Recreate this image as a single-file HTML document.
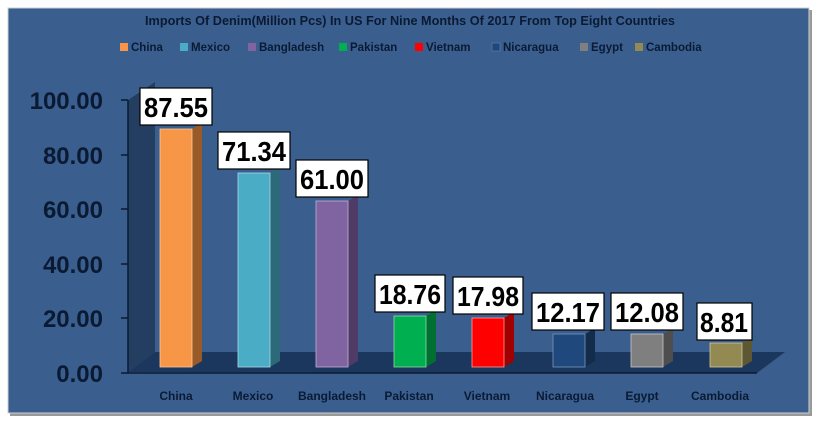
<!DOCTYPE html>
<html><head><style>
body{margin:0;background:#fff;width:820px;height:427px;overflow:hidden}
svg{display:block;font-family:"Liberation Sans",Calibri,sans-serif}
</style></head><body>
<svg width="820" height="427" viewBox="0 0 820 427">
<rect x="0" y="0" width="820" height="427" fill="#fff"/>
<rect x="10" y="10" width="802" height="406" fill="#555" opacity="0.6"/>
<rect x="8" y="8" width="801" height="405" fill="#3a5f8f" stroke="#cfcfcf" stroke-width="1"/>
<text x="410" y="25" text-anchor="middle" font-size="12.5" font-weight="bold" fill="#0b1a33" textLength="530" lengthAdjust="spacingAndGlyphs">Imports Of Denim(Million Pcs) In US For Nine Months Of 2017 From Top Eight Countries</text>
<g font-size="11.5" font-weight="bold" fill="#0b1a33">
<rect x="120" y="43" width="8" height="8" fill="#f79646"/><text x="131" y="51">China</text>
<rect x="180" y="43" width="8" height="8" fill="#4bacc6"/><text x="191" y="51">Mexico</text>
<rect x="248" y="43" width="8" height="8" fill="#8064a2"/><text x="259" y="51">Bangladesh</text>
<rect x="339" y="43" width="8" height="8" fill="#00b050"/><text x="350" y="51">Pakistan</text>
<rect x="415" y="43" width="8" height="8" fill="#ff0000"/><text x="426" y="51">Vietnam</text>
<rect x="492" y="43" width="8" height="8" fill="#1f497d" stroke="#6a8ab5" stroke-width="0.5"/><text x="503" y="51">Nicaragua</text>
<rect x="580" y="43" width="8" height="8" fill="#7f7f7f"/><text x="591" y="51">Egypt</text>
<rect x="635" y="43" width="8" height="8" fill="#938953"/><text x="646" y="51">Cambodia</text>
</g>
<polygon points="128,100 155,82 155,352 128,372" fill="#243e62"/>
<polygon points="128,372 155,352 785,352 757,373" fill="#1c375e"/>
<line x1="128" y1="373" x2="757" y2="373" stroke="#0b1a33" stroke-width="1.5"/>
<line x1="128" y1="100" x2="128" y2="373" stroke="#0b1a33" stroke-width="1.5"/>
<g stroke="#0b1a33" stroke-width="1.5">
<line x1="121" y1="100" x2="128" y2="100"/><line x1="121" y1="155" x2="128" y2="155"/><line x1="121" y1="209" x2="128" y2="209"/><line x1="121" y1="264" x2="128" y2="264"/><line x1="121" y1="318" x2="128" y2="318"/><line x1="121" y1="373" x2="128" y2="373"/>
</g>
<g font-size="24" font-weight="bold" fill="#0b1a33" text-anchor="end">
<text x="103" y="109">100.00</text><text x="103" y="164">80.00</text><text x="103" y="218">60.00</text><text x="103" y="273">40.00</text><text x="103" y="327">20.00</text><text x="103" y="382">0.00</text>
</g>
<g font-size="12" font-weight="bold" fill="#0b1a33" text-anchor="middle">
<text x="176" y="400">China</text><text x="253" y="400">Mexico</text><text x="332" y="400">Bangladesh</text><text x="409" y="400">Pakistan</text><text x="487" y="400">Vietnam</text><text x="565" y="400">Nicaragua</text><text x="642" y="400">Egypt</text><text x="720" y="400">Cambodia</text>
</g>
<g>
<polygon points="192,129 202,123 202,361 192,367" fill="#9a5a28"/><rect x="160" y="129" width="32" height="238" fill="#f79646" stroke="#fbc79c" stroke-width="0.8"/>
<polygon points="270,173 280,167 280,361 270,367" fill="#2c6a7a"/><rect x="238" y="173" width="32" height="194" fill="#4bacc6" stroke="#a8dbe8" stroke-width="0.8"/>
<polygon points="348,201 358,195 358,361 348,367" fill="#4f3c66"/><rect x="316" y="201" width="32" height="166" fill="#8064a2" stroke="#c0b0d4" stroke-width="0.8"/>
<polygon points="426,316 436,310 436,361 426,367" fill="#007030"/><rect x="394" y="316" width="32" height="51" fill="#00b050" stroke="#8fd8a8" stroke-width="0.8"/>
<polygon points="504,318 514,312 514,361 504,367" fill="#a00000"/><rect x="472" y="318" width="32" height="49" fill="#ff0000" stroke="#ff9a9a" stroke-width="0.8"/>
<polygon points="585,334 595,328 595,361 585,367" fill="#132c4c"/><rect x="553" y="334" width="32" height="33" fill="#1f497d" stroke="#7a96bb" stroke-width="0.8"/>
<polygon points="663,334 673,328 673,361 663,367" fill="#4e4e4e"/><rect x="631" y="334" width="32" height="33" fill="#7f7f7f" stroke="#c8c8c8" stroke-width="0.8"/>
<polygon points="742,343 752,337 752,361 742,367" fill="#5e5733"/><rect x="710" y="343" width="32" height="24" fill="#938953" stroke="#cfc8a0" stroke-width="0.8"/>
</g>
<g font-size="28" font-weight="bold" fill="#000" text-anchor="middle" lengthAdjust="spacingAndGlyphs">
<rect x="140" y="88" width="72" height="37" fill="#fff" stroke="#000" stroke-width="1.2"/><text x="176" y="117" textLength="64" lengthAdjust="spacingAndGlyphs">87.55</text>
<rect x="218" y="132" width="72" height="37" fill="#fff" stroke="#000" stroke-width="1.2"/><text x="254" y="161" textLength="64" lengthAdjust="spacingAndGlyphs">71.34</text>
<rect x="296" y="160" width="72" height="37" fill="#fff" stroke="#000" stroke-width="1.2"/><text x="332" y="189" textLength="64" lengthAdjust="spacingAndGlyphs">61.00</text>
<rect x="375" y="275" width="70" height="37" fill="#fff" stroke="#000" stroke-width="1.2"/><text x="410" y="304" textLength="62" lengthAdjust="spacingAndGlyphs">18.76</text>
<rect x="453" y="277" width="70" height="37" fill="#fff" stroke="#000" stroke-width="1.2"/><text x="488" y="306" textLength="62" lengthAdjust="spacingAndGlyphs">17.98</text>
<rect x="532" y="293" width="72" height="37" fill="#fff" stroke="#000" stroke-width="1.2"/><text x="568" y="322" textLength="64" lengthAdjust="spacingAndGlyphs">12.17</text>
<rect x="611" y="293" width="72" height="37" fill="#fff" stroke="#000" stroke-width="1.2"/><text x="647" y="322" textLength="64" lengthAdjust="spacingAndGlyphs">12.08</text>
<rect x="697" y="303" width="55" height="37" fill="#fff" stroke="#000" stroke-width="1.2"/><text x="724" y="332" textLength="48" lengthAdjust="spacingAndGlyphs">8.81</text>
</g>
</svg>
</body></html>
